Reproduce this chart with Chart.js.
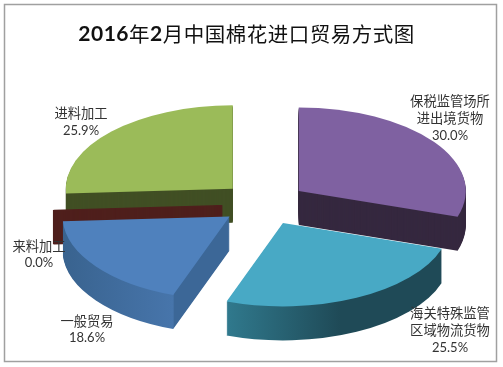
<!DOCTYPE html>
<html>
<head>
<meta charset="utf-8">
<style>
    html, body { margin: 0; padding: 0; background: #fff; }
    canvas { display: block; }
</style>
<script src="https://cdn.jsdelivr.net/npm/chart.js@4"></script>
</head>
<body>
<canvas id="pieChart" width="503" height="367"></canvas>
<script>
const categories = [['保税监管场所', '进出境货物'], ['海关特殊监管', '区域物流货物'], ['一般贸易'], ['来料加工'], ['进料加工']];
const shares = [30.0, 25.5, 18.6, 0.04, 25.9];
const titleRuns = [['2016', true], ['年', false], ['2', true], ['月中国棉花进口贸易方式图', false]];

const topColors = ['#7f61a1', '#48a9c5', '#4f81bd', '#c0504d', '#9bbb59'];
const wallColors = ['#35283f', '#1f4a57', '#3c6797', '#4f1f1c', '#414f24'];
// center of each label block, same order as categories
const labelCenters = [[450, 118], [450, 330], [87, 329.5], [39, 254.5], [81, 122]];

const pieCenter = [264, 203.6];
const squash = 0.5;     // how flat the pie looks
const depth = 34;       // height of the walls in pixels
const explode = 43;     // how far each slice is pulled out
const paintOrder = [4, 0, 3, 2, 1];
const zeroSlice = 3;    // 0.0% slice only shows its wall

function sliceShift(arc) {
    const mid = (arc.startAngle + arc.endAngle) / 2;
    return [Math.cos(mid) * explode, Math.sin(mid) * explode];
}

function moveToPie(ctx, arc, down) {
    const s = sliceShift(arc);
    ctx.setTransform(1, 0, 0, squash, pieCenter[0] + s[0] - arc.x, pieCenter[1] + (s[1] - arc.y) * squash + down);
}

function wallFill(ctx, arc, i) {
    const dx = pieCenter[0] + sliceShift(arc)[0] - arc.x;
    if (i === 2) {
        const g = ctx.createLinearGradient(64 - dx, 0, 232 - dx, 0);
        g.addColorStop(0, '#39638f');
        g.addColorStop(0.65, '#4775ab');
        g.addColorStop(0.655, '#3c6797');
        g.addColorStop(1, '#3c6797');
        return g;
    }
    if (i === 1) {
        const g = ctx.createLinearGradient(227 - dx, 0, 340 - dx, 0);
        g.addColorStop(0, '#30798d');
        g.addColorStop(1, '#1f4a57');
        return g;
    }
    return wallColors[i];
}

function drawArcWith(ctx, arc, fill, line) {
    const saved = arc.options;
    arc.options = Object.assign({}, saved, {
        backgroundColor: fill,
        borderColor: fill,
        borderWidth: line,
        borderJoinStyle: 'round'
    });
    arc.draw(ctx);
    arc.options = saved;
}

// draws the slices squashed, each one with its wall under it
const pie3d = {
    id: 'pie3d',
    beforeDatasetsDraw(chart) {
        const ctx = chart.ctx;
        const arcs = chart.getDatasetMeta(0).data;
        ctx.save();
        paintOrder.forEach(i => {
            const arc = arcs[i];
            const fill = wallFill(ctx, arc, i);
            for (let k = depth; k > 0; k--) {
                ctx.save();
                moveToPie(ctx, arc, k);
                drawArcWith(ctx, arc, fill, i === zeroSlice ? 3 : 0);
                ctx.restore();
            }
            if (i !== zeroSlice) {
                ctx.save();
                moveToPie(ctx, arc, 0);
                arc.draw(ctx);
                ctx.restore();
            }
        });
        ctx.restore();
        return false;
    }
};

const frameAndText = {
    id: 'frameAndText',
    beforeDraw(chart) {
        const ctx = chart.ctx;
        ctx.fillStyle = '#fff';
        ctx.fillRect(0, 0, 503, 367);
        ctx.strokeStyle = '#a0a0a0';
        ctx.lineWidth = 1.5;
        ctx.strokeRect(4.5, 4.5, 492, 357);
    },
    afterDraw(chart) {
        const ctx = chart.ctx;
        ctx.save();
        ctx.textBaseline = 'middle';

        // title, bold digits and lighter Chinese
        ctx.fillStyle = '#111';
        ctx.textAlign = 'left';
        const fontFor = bold => bold ? 'bold 21px Lato' : '20.5px "Noto Sans CJK SC"';
        let width = 0;
        ctx.letterSpacing = '0.5px';
        titleRuns.forEach(r => { ctx.font = fontFor(r[1]); width += ctx.measureText(r[0]).width; });
        let x = 246.5 - width / 2;
        titleRuns.forEach(r => {
            ctx.font = fontFor(r[1]);
            ctx.fillText(r[0], x, 34);
            x += ctx.measureText(r[0]).width;
        });
        ctx.letterSpacing = '0px';

        // slice labels
        ctx.textAlign = 'center';
        ctx.fillStyle = '#333';
        categories.forEach((lines, i) => {
            const rows = lines.concat(shares[i].toFixed(1) + '%');
            const top = labelCenters[i][1] - (rows.length - 1) * 17.5 / 2;
            rows.forEach((row, r) => {
                ctx.font = r === rows.length - 1 ? '13px Lato' : '13.3px "Noto Sans CJK SC"';
                ctx.fillText(row, labelCenters[i][0], top + r * 17.5);
            });
        });
        ctx.restore();
    }
};

new Chart(document.getElementById('pieChart').getContext('2d'), {
    type: 'pie',
    data: {
        labels: categories.map(c => c.join('')),
        datasets: [{
            data: shares,
            backgroundColor: topColors,
            borderWidth: 0
        }]
    },
    options: {
        responsive: false,
        animation: false,
        events: [],
        radius: 167,
        plugins: {
            legend: { display: false },
            title: { display: false },
            tooltip: { enabled: false }
        }
    },
    plugins: [pie3d, frameAndText]
});
</script>
</body>
</html>
